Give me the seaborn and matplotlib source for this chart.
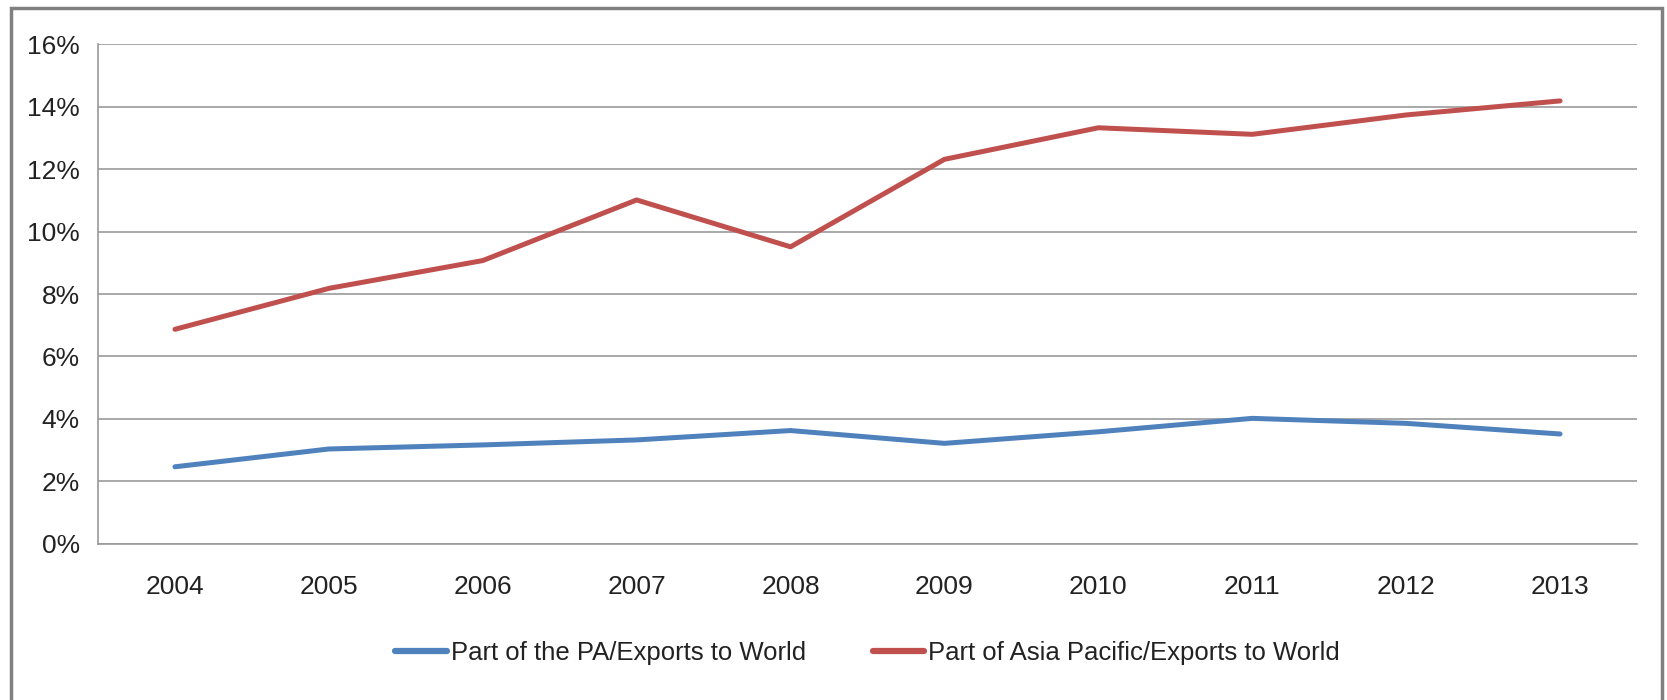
import matplotlib
matplotlib.use("Agg")
from matplotlib import pyplot as plt
from matplotlib.patches import Rectangle
from matplotlib.ticker import FixedLocator, PercentFormatter
import pandas as pd
import seaborn as sns

# values (percent)
years = [2004, 2005, 2006, 2007, 2008, 2009, 2010, 2011, 2012, 2013]
pa_share = [2.47, 3.04, 3.17, 3.33, 3.63, 3.22, 3.59, 4.02, 3.86, 3.52]
asia_share = [6.87, 8.18, 9.07, 11.01, 9.51, 12.31, 13.32, 13.11, 13.73, 14.18]
series_names = ['Part of the PA/Exports to World',
                'Part of Asia Pacific/Exports to World']
series_colors = ['#4F81BD', '#C0504D']

df = pd.DataFrame({
    'year': years * 2,
    'share': pa_share + asia_share,
    'series': [series_names[0]] * len(years) + [series_names[1]] * len(years),
})

sns.set_style('white')
plt.rcParams['font.family'] = ['Liberation Sans', 'DejaVu Sans']

fig = plt.figure(figsize=(16.67, 7.0), dpi=100)
ax = fig.add_axes([0.0588, 0.2229, 0.9232, 0.7142])

sns.lineplot(data=df, x='year', y='share', hue='series',
             palette=dict(zip(series_names, series_colors)),
             linewidth=3.6, ax=ax, legend=True)

# axis ranges and ticks
ax.set_xlim(2003.5, 2013.5)
ax.set_ylim(0, 16)
ax.set_yticks(range(0, 17, 2))
ax.yaxis.set_major_formatter(PercentFormatter(decimals=0))
ax.set_xticks(years)
ax.set_xticklabels([str(y) for y in years])
ax.xaxis.set_minor_locator(FixedLocator([y - 0.5 for y in years] + [2013.5]))
ax.tick_params(axis='x', which='major', length=0, pad=22, labelsize=19, labelcolor='#222222')
ax.tick_params(axis='x', which='minor', length=10, width=1, color='#999999', direction='out')
ax.tick_params(axis='y', which='major', length=7, width=1, color='#999999', direction='out',
               pad=6, labelsize=19, labelcolor='#222222')
ax.set_xlabel('')
ax.set_ylabel('')

# gridlines and spines
ax.yaxis.grid(True, color='#999999', linewidth=1.2)
ax.set_axisbelow(True)
for side in ['top', 'right']:
    ax.spines[side].set_visible(False)
ax.spines['left'].set_color('#999999')
ax.spines['bottom'].set_color('#999999')
ax.spines['left'].set_linewidth(1.2)
ax.spines['bottom'].set_linewidth(1.2)

# legend below the plot
leg = ax.legend(loc='center', bbox_to_anchor=(0.5, -0.218), ncol=2, frameon=False,
                fontsize=18.5, handlelength=2.0, handletextpad=0.15, columnspacing=2.6)
for line in leg.get_lines():
    line.set_linewidth(4.5)
for text in leg.get_texts():
    text.set_color('#222222')

# outer chart frame
fig.patches.append(Rectangle((11 / 1667, -0.05), 1651 / 1667, 1.05 - 8 / 700,
                             transform=fig.transFigure, fill=False,
                             edgecolor='#808080', linewidth=2.5))

fig.savefig('out.png', dpi=100, facecolor='white')
